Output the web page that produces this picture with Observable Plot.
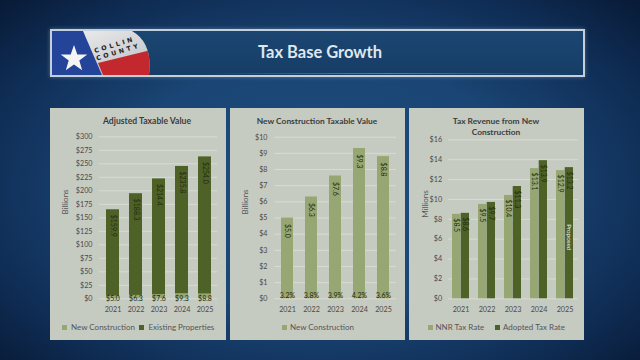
<!DOCTYPE html>
<html><head><meta charset="utf-8">
<script src="https://cdn.jsdelivr.net/npm/d3@7"></script>
<script src="https://cdn.jsdelivr.net/npm/@observablehq/plot@0.6"></script>
<style>
html,body{margin:0;padding:0}
body{width:640px;height:360px;overflow:hidden;position:relative;font-family:Lato,"Open Sans",sans-serif;
 background:radial-gradient(ellipse 72% 78% at 50% 52%, #1f4e81 0%, #1a4574 45%, #0f2d55 75%, #071731 100%);}
.banner{position:absolute;left:50px;top:29px;width:531px;height:44px;border:2px solid #c3cfdb;background:linear-gradient(180deg,#1b4671,#163d66);box-shadow:0 0 4px rgba(160,190,220,0.45);overflow:hidden}
.panel{position:absolute;top:108px;height:232px;background:#c6cbc2}
.abs{position:absolute;white-space:nowrap;line-height:1}
</style></head><body>
<div class="banner">
<svg width="100" height="44" viewBox="0 0 100 44" style="position:absolute;left:0;top:0">
 <defs><clipPath id="lc"><path d="M0,0 H80 Q101,12 97,44 H0 Z"/></clipPath>
 <linearGradient id="wg" x1="0" y1="0" x2="1" y2="1"><stop offset="0" stop-color="#f2f2f2"/><stop offset="1" stop-color="#b9bcc2"/></linearGradient></defs>
 <g clip-path="url(#lc)">
  <rect width="100" height="44" fill="url(#wg)"/>
  <path d="M0,0 H31 L50,44 H0 Z" fill="#24449a"/>
  <path d="M46,32 L99,19 L100,44 L51,44 Z" fill="#c3282e"/>
  <polygon points="22,14 25.3,23.5 35.3,23.6 27.3,29.6 30.2,39.2 22,33.4 13.8,39.2 16.7,29.6 8.7,23.6 18.7,23.5" fill="#f4f4f4"/>
  <text transform="translate(43,22) rotate(-17)" font-family="DejaVu Sans" font-weight="bold" font-size="6.3" letter-spacing="2.8" fill="#222">COLLIN</text>
  <text transform="translate(45,29.5) rotate(-17)" font-family="DejaVu Sans" font-weight="bold" font-size="6.3" letter-spacing="2.8" fill="#222">COUNTY</text>
 </g>
</svg>
<div style="position:absolute;left:150px;right:10px;top:42px;height:1px;background:linear-gradient(90deg,rgba(150,190,220,0),rgba(150,190,220,0.5),rgba(150,190,220,0))"></div>
</div>
<div id="p1" class="panel" style="left:50px;width:176px"></div>
<div id="p2" class="panel" style="left:230px;width:175px"></div>
<div id="p3" class="panel" style="left:409px;width:175px"></div>
<script>
// ---- data ----
const years = ["2021","2022","2023","2024","2025"];
const seriesAdjusted = ["New Construction","Existing Properties"];
const newConstruction = [5.0, 6.3, 7.6, 9.3, 8.8];
const existingProperties = [159.9, 188.3, 214.4, 235.8, 254.0];
const newConstructionShare = ["3.2%","3.8%","3.9%","4.2%","3.6%"];
const seriesRevenue = ["NNR Tax Rate","Adopted Tax Rate"];
const nnrRevenue = [8.5, 9.5, 10.4, 13.1, 12.9];
const adoptedRevenue = [8.6, 9.7, 11.3, 13.9, 13.2];
const proposedYear = "2025";
const ticksAdjusted = [0,25,50,75,100,125,150,175,200,225,250,275,300];
const ticksNew = [0,1,2,3,4,5,6,7,8,9,10];
const ticksRevenue = [0,2,4,6,8,10,12,14,16];

const LIGHT = "#97a773", DARK = "#4e6127", GRID = "#d8dcd3", INK = "#4a4a4a", LABEL = "#222c0e";
const money1 = v => "$" + v.toFixed(1);
const baseStyle = () => ({background:"none", fontFamily:"Lato, sans-serif", fontSize:"7.2px", color:INK, overflow:"visible", display:"block", maxWidth:"none"});

// ---- helpers for HTML text ----
function addText(txt, cx, cy, o = {}) {
  const d = document.createElement("div");
  d.className = "abs";
  d.textContent = txt;
  Object.assign(d.style, {left: cx + "px", top: cy + "px",
    transform: "translate(-50%,-50%)" + (o.rotate ? ` rotate(${o.rotate}deg)` : ""),
    fontSize: (o.size || 8) + "px", fontWeight: o.weight || 400, color: o.color || "#555"});
  document.body.appendChild(d);
}
function addLegend(items, cy) {
  for (const it of items) {
    const s = document.createElement("div");
    s.className = "abs";
    Object.assign(s.style, {left: (it.sq - 2.5) + "px", top: (cy - 2.5) + "px", width: "5px", height: "5px", background: it.color});
    document.body.appendChild(s);
    const t = document.createElement("div");
    t.className = "abs";
    t.textContent = it.label;
    Object.assign(t.style, {left: it.tx + "px", top: cy + "px", transform: "translateY(-50%)", fontSize: "8px", color: "#555"});
    document.body.appendChild(t);
  }
}

// ---- chart 1: Adjusted Taxable Value (stacked) ----
const adj = years.flatMap((y, i) => [
  {year: y, series: seriesAdjusted[0], value: newConstruction[i]},
  {year: y, series: seriesAdjusted[1], value: existingProperties[i]}
]);
const tot = years.map((y, i) => ({year: y, existing: existingProperties[i], nc: newConstruction[i], total: existingProperties[i] + newConstruction[i]}));
const c1 = Plot.plot({
  width: 176, height: 232, marginTop: 28.3, marginBottom: 41.7, marginLeft: 49, marginRight: 9,
  style: baseStyle(),
  x: {domain: years, paddingInner: 0.45, paddingOuter: 0.225, tickSize: 0, tickPadding: 8, label: null},
  y: {domain: [0, 300], ticks: ticksAdjusted, tickFormat: d => "$" + d, tickSize: 0, tickPadding: 7, label: null},
  color: {domain: seriesAdjusted, range: [LIGHT, DARK]},
  marks: [
    Plot.ruleY(ticksAdjusted, {stroke: GRID}),
    Plot.barY(adj, {x: "year", y: "value", fill: "series"}),
    Plot.text(tot, {x: "year", y: "total", text: d => money1(d.existing), rotate: 90, textAnchor: "start", dy: 5, fontSize: 7, fill: LABEL}),
    Plot.text(tot, {x: "year", y: 0, text: d => money1(d.nc), fontSize: 7, fill: LABEL})
  ]
});
document.getElementById("p1").appendChild(c1);

// ---- chart 2: New Construction Taxable Value ----
const nc = years.map((y, i) => ({year: y, value: newConstruction[i], share: newConstructionShare[i]}));
const c2 = Plot.plot({
  width: 175, height: 232, marginTop: 28.7, marginBottom: 41.7, marginLeft: 44.4, marginRight: 9.1,
  style: baseStyle(),
  x: {domain: years, paddingInner: 0.48, paddingOuter: 0.24, tickSize: 0, tickPadding: 8, label: null},
  y: {domain: [0, 10], ticks: ticksNew, tickFormat: d => "$" + d, tickSize: 0, tickPadding: 7.4, label: null},
  marks: [
    Plot.ruleY(ticksNew, {stroke: GRID}),
    Plot.barY(nc, {x: "year", y: "value", fill: LIGHT}),
    Plot.text(nc, {x: "year", y: "value", text: d => money1(d.value), rotate: 90, textAnchor: "start", dy: 6, fontSize: 7, fill: LABEL}),
    Plot.text(nc, {x: "year", y: 0, text: "share", dy: -3, fontSize: 7, fill: LABEL})
  ]
});
document.getElementById("p2").appendChild(c2);

// ---- chart 3: Tax Revenue from New Construction ----
const rev = years.map((y, i) => ({year: y, nnr: nnrRevenue[i], adopted: adoptedRevenue[i]}));
const m3 = {left: 39, right: 6}, pi3 = 0.33;
const step3 = (175 - m3.left - m3.right) / years.length;
const half = step3 * (1 - pi3) / 2;
const c3 = Plot.plot({
  width: 175, height: 232, marginTop: 31.3, marginBottom: 41.7, marginLeft: m3.left, marginRight: m3.right,
  style: baseStyle(),
  x: {domain: years, paddingInner: pi3, paddingOuter: pi3 / 2, tickSize: 0, tickPadding: 8, label: null},
  y: {domain: [0, 16], ticks: ticksRevenue, tickFormat: d => "$" + d, tickSize: 0, tickPadding: 6.4, label: null},
  marks: [
    Plot.ruleY(ticksRevenue, {stroke: GRID}),
    Plot.barY(rev, {x: "year", y: "nnr", fill: LIGHT, insetRight: half}),
    Plot.barY(rev, {x: "year", y: "adopted", fill: DARK, insetLeft: half}),
    Plot.text(rev, {x: "year", y: "nnr", text: d => money1(d.nnr), rotate: 90, textAnchor: "start", dx: -half / 2, dy: 4, fontSize: 7, fill: LABEL}),
    Plot.text(rev, {x: "year", y: "adopted", text: d => money1(d.adopted), rotate: 90, textAnchor: "start", dx: half / 2, dy: 4, fontSize: 7, fill: LABEL}),
    Plot.text(rev.filter(d => d.year === proposedYear), {x: "year", y: d => d.adopted / 2, text: () => "Proposed", rotate: 90, dx: half / 2, dy: 4, fontSize: 6.3, fill: "#eef0ea"})
  ]
});
document.getElementById("p3").appendChild(c3);

// ---- titles, axis labels, legends ----
addText("Tax Base Growth", 320, 52, {size: 16.5, weight: 700, color: "#dfe7ef"});
addText("Adjusted Taxable Value", 147, 121, {size: 8.6, weight: 700, color: "#3c3c3c"});
addText("New Construction Taxable Value", 317, 120.5, {size: 8.4, weight: 700, color: "#3c3c3c"});
addText("Tax Revenue from New", 496, 120.5, {size: 8.4, weight: 700, color: "#3c3c3c"});
addText("Construction", 496, 132, {size: 8.4, weight: 700, color: "#3c3c3c"});
addText("Billions", 65, 202, {size: 8, rotate: -90, color: "#555"});
addText("Billions", 245, 202, {size: 8, rotate: -90, color: "#555"});
addText("Millions", 424.5, 204, {size: 8, rotate: -90, color: "#555"});
addLegend([{label: seriesAdjusted[0], color: LIGHT, sq: 64.5, tx: 71}, {label: seriesAdjusted[1], color: DARK, sq: 141.6, tx: 148.5}], 327);
addLegend([{label: seriesAdjusted[0], color: LIGHT, sq: 284.5, tx: 290}], 327);
addLegend([{label: seriesRevenue[0], color: LIGHT, sq: 430, tx: 435.5}, {label: seriesRevenue[1], color: DARK, sq: 497.5, tx: 503}], 327);
</script>
</body></html>
